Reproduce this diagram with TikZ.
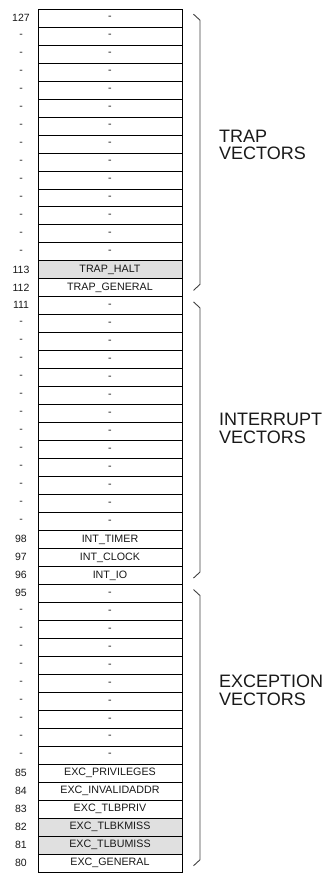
\documentclass[tikz,border=0pt]{standalone}
\usepackage{fontspec}
\setmainfont{Liberation Sans}
\begin{document}
\begin{tikzpicture}[x=1pt,y=-1pt,
  cell/.style={draw=black, line width=0.9pt, minimum width=144pt, minimum height=17.98pt,
    inner sep=0pt, anchor=north, font=\fontsize{10.7}{12}\selectfont, text=black!90},
  num/.style={font=\fontsize{10.5}{12}\selectfont, inner sep=0pt, text=black!90},
  bracepath/.style={draw=black!75, line width=0.9pt},
  grp/.style={font=\fontsize{18}{17.5}\selectfont, align=left, anchor=base west, inner sep=0pt, text=black!90}]
\useasboundingbox (0,0) rectangle (327,873);
\def\top{8.7}
\def\rh{17.98}
\foreach \i/\n/\t/\c in {
  0/127/-/white, 1/-/-/white, 2/-/-/white, 3/-/-/white, 4/-/-/white, 5/-/-/white,
  6/-/-/white, 7/-/-/white, 8/-/-/white, 9/-/-/white, 10/-/-/white, 11/-/-/white,
  12/-/-/white, 13/-/-/white, 14/113/TRAP\_HALT/black!12, 15/112/TRAP\_GENERAL/white,
  16/111/-/white, 17/-/-/white, 18/-/-/white, 19/-/-/white, 20/-/-/white, 21/-/-/white,
  22/-/-/white, 23/-/-/white, 24/-/-/white, 25/-/-/white, 26/-/-/white, 27/-/-/white,
  28/-/-/white, 29/98/INT\_TIMER/white, 30/97/INT\_CLOCK/white, 31/96/INT\_IO/white,
  32/95/-/white, 33/-/-/white, 34/-/-/white, 35/-/-/white, 36/-/-/white, 37/-/-/white,
  38/-/-/white, 39/-/-/white, 40/-/-/white, 41/-/-/white,
  42/85/EXC\_PRIVILEGES/white, 43/84/EXC\_INVALIDADDR/white, 44/83/EXC\_TLBPRIV/white,
  45/82/EXC\_TLBKMISS/black!12, 46/81/EXC\_TLBUMISS/black!12, 47/80/EXC\_GENERAL/white}
{
  \node[cell, fill=\c] (r\i) at (110, {\top+\rh*\i}) {\t};
  \node[num] (n\i) at (21, {\top+\rh*\i+\rh/2}) {\n};
}
% braces
\foreach \a/\b in {0/15, 16/31, 32/47}{
  \pgfmathsetmacro{\ya}{\top+\rh*\a}
  \pgfmathsetmacro{\yb}{\top+\rh*(\b+1)}
  \draw[bracepath] (193.5,{\ya+5.5}) -- (200,{\ya+11.5}) -- (200,{\yb-12}) -- (193.5,{\yb-6});
}
\node[grp] (trap) at (219,159.5) {TRAP\\VECTORS};
\node[grp] (intr) at (219,443) {INTERRUPT\\VECTORS};
\node[grp] (exc) at (219,705) {EXCEPTION\\VECTORS};
\end{tikzpicture}
\end{document}
